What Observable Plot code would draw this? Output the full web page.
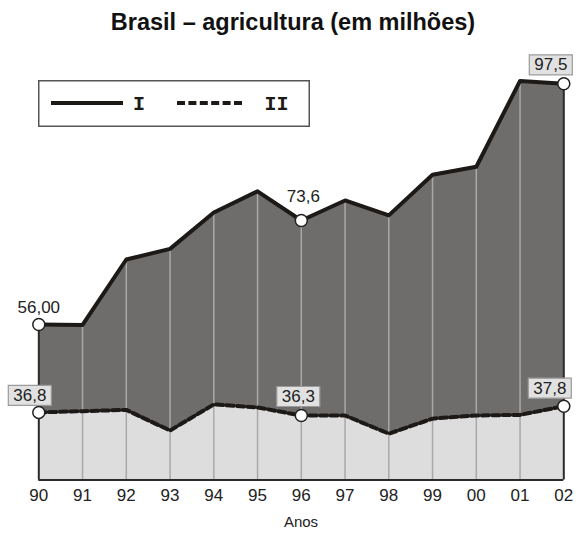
<!DOCTYPE html>
<html>
<head>
<meta charset="utf-8">
<script src="https://cdn.jsdelivr.net/npm/d3@7"></script>
<script src="https://cdn.jsdelivr.net/npm/@observablehq/plot@0.6"></script>
<style>
  body { margin: 0; background: #fff; }
  #wrap { position: relative; width: 576px; height: 533px; font-family: "Liberation Sans", Arial, sans-serif; color: #222; }
  #title { position: absolute; top: 10px; left: 9px; width: 568px; text-align: center; font-weight: bold; font-size: 23.5px; line-height: 24px; color: #111; white-space: nowrap; }
  #xlabel { position: absolute; top: 514px; left: 13px; width: 576px; text-align: center; font-size: 15px; line-height: 15px; color: #222; }
  #legend { position: absolute; left: 38px; top: 80px; }
  #wrap svg { overflow: visible; }
</style>
</head>
<body>
<div id="wrap"></div>
<script>
// ---- data ----
const years = ["90","91","92","93","94","95","96","97","98","99","00","01","02"];
const serieI  = [56.00, 55.9, 67.0, 68.8, 75.0, 78.7, 73.6, 77.1, 74.5, 81.6, 83.0, 98.0, 97.5];
const serieII = [36.8, 37.0, 37.2, 33.9, 38.2, 37.6, 36.3, 36.3, 33.4, 35.8, 36.3, 36.4, 37.8];
const seriesNames = ["I", "II"];
const labelYears = ["90", "96", "02"];
const labelDecimalsI = [2, 1, 1];
const labelDecimalsII = [1, 1, 1];
const titleText = "Brasil – agricultura (em milhões)";
const xLabelText = "Anos";
// the original drawing is not to scale: piecewise y scale through labelled values
const yBase = 26;
const yKnots = [yBase, 36.3, 37.8, 56, 73.6, 97.5];
const yKnotPixels = [479.5, 415, 405.7, 324, 220, 83.3];

// ---- build ----
const rows = years.map((year, i) => ({year, I: serieI[i], II: serieII[i]}));
const fmt = (v, dec) => v.toFixed(dec).replace(".", ",");
const labelRows = (key, decs) => labelYears.map((yr, i) => {
  const d = rows.find(r => r.year === yr);
  return {year: yr, v: d[key], text: fmt(d[key], decs[i])};
});
const labI = labelRows("I", labelDecimalsI);
const labII = labelRows("II", labelDecimalsII);
const pick = (arr, yr) => arr.filter(d => d.year === yr);

const boxSymbol = {draw(ctx) { ctx.rect(-21.5, -10, 43, 20); }};
const boxed = (data, dx, dy) => [
  Plot.dot(data, {x: "year", y: "v", symbol: boxSymbol, fill: "#e1e1e1", stroke: "#9b9b9b", strokeWidth: 1.2, dx, dy}),
  Plot.text(data, {x: "year", y: "v", text: "text", dx, dy, fontSize: 17, fill: "#222"})
];
const plain = (data, dx, dy) => Plot.text(data, {x: "year", y: "v", text: "text", dx, dy, fontSize: 17, fill: "#222"});

const chart = Plot.plot({
  width: 576,
  height: 533,
  marginLeft: 38.3,
  marginRight: 12.7,
  marginTop: 80,
  marginBottom: 53.5,
  style: {fontFamily: "Liberation Sans, Arial, sans-serif", fontSize: "17px", color: "#222", background: "transparent"},
  x: {type: "point", domain: years, padding: 0, round: false, tickSize: 0, tickPadding: 9, label: null},
  y: {type: "linear", domain: yKnots, range: yKnotPixels, axis: null},
  marks: [
    Plot.areaY(rows, {x: "year", y1: yBase, y2: "I", fill: "#6f6d6b"}),
    Plot.areaY(rows, {x: "year", y1: yBase, y2: "II", fill: "#dddddd"}),
    Plot.ruleX(rows.slice(1, -1), {x: "year", y1: yBase, y2: "I", stroke: "#a9a9a9", strokeWidth: 1.5}),
    Plot.ruleX([rows[0], rows[rows.length - 1]], {x: "year", y1: yBase, y2: "I", stroke: "#2a2a2a", strokeWidth: 2}),
    Plot.ruleY([yBase], {stroke: "#2a2a2a", strokeWidth: 2}),
    Plot.lineY(rows, {x: "year", y: "II", stroke: "#1c1917", strokeWidth: 4, strokeDasharray: "7,3.5"}),
    Plot.lineY(rows, {x: "year", y: "I", stroke: "#1c1917", strokeWidth: 4, strokeLinejoin: "round"}),
    Plot.dot(labI, {x: "year", y: "v", r: 6, fill: "white", stroke: "#222", strokeWidth: 1.5}),
    Plot.dot(labII, {x: "year", y: "v", r: 6, fill: "white", stroke: "#222", strokeWidth: 1.5}),
    plain(pick(labI, "90"), 0, -17),
    plain(pick(labI, "96"), 2, -24),
    ...boxed(pick(labI, "02"), -13, -19),
    ...boxed(pick(labII, "90"), -9, -17),
    ...boxed(pick(labII, "96"), -3, -19),
    ...boxed(pick(labII, "02"), -14, -18)
  ]
});

const wrap = document.getElementById("wrap");
wrap.appendChild(chart);

const title = document.createElement("div");
title.id = "title";
title.textContent = titleText;
wrap.appendChild(title);

const xl = document.createElement("div");
xl.id = "xlabel";
xl.textContent = xLabelText;
wrap.appendChild(xl);

// legend
const leg = d3.select(wrap).append("svg").attr("id", "legend").attr("width", 272).attr("height", 47);
leg.append("rect").attr("x", 0.75).attr("y", 0.75).attr("width", 270.5).attr("height", 45.5)
  .attr("fill", "white").attr("stroke", "#555").attr("stroke-width", 1.5);
const legendItems = [
  {name: seriesNames[0], x1: 13, x2: 85, tx: 101, dash: null},
  {name: seriesNames[1], x1: 139, x2: 207, tx: 238.5, dash: "8,3.4"}
];
for (const it of legendItems) {
  leg.append("line").attr("x1", it.x1).attr("x2", it.x2).attr("y1", 23).attr("y2", 23)
    .attr("stroke", "#1c1917").attr("stroke-width", 4).attr("stroke-dasharray", it.dash);
  leg.append("text").attr("x", it.tx).attr("y", 23).attr("text-anchor", "middle").attr("dy", "0.35em")
    .attr("font-family", "Liberation Mono, Courier New, monospace").attr("font-weight", "bold")
    .attr("font-size", 20).attr("fill", "#1c1917").text(it.name);
}
</script>
</body>
</html>
